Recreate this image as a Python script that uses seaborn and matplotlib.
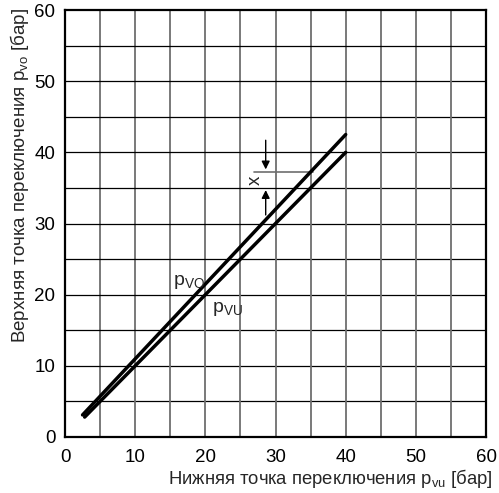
import numpy as np
import pandas as pd
import matplotlib
matplotlib.use("Agg")
import matplotlib.pyplot as plt
import seaborn as sns

# switching points [bar]
p_vu_x = [2.8, 40.0]
p_vu_y = [2.8, 40.0]
p_vo_x = [2.5, 40.0]
p_vo_y = [3.1, 42.5]

ticks = [0, 10, 20, 30, 40, 50, 60]
grid = np.arange(0, 61, 5)

sns.set_style("white")
plt.rcParams["font.family"] = ["Liberation Sans", "DejaVu Sans"]
plt.rcParams["mathtext.fontset"] = "custom"
plt.rcParams["mathtext.rm"] = "Liberation Sans"
plt.rcParams["mathtext.it"] = "Liberation Sans"

df = pd.concat([
    pd.DataFrame({"x": p_vo_x, "y": p_vo_y, "line": "pvo"}),
    pd.DataFrame({"x": p_vu_x, "y": p_vu_y, "line": "pvu"}),
])

fig = plt.figure(figsize=(4.99, 4.93), dpi=100)
ax = fig.add_axes([0.1303, 0.1136, 0.8437, 0.8661])

for g in grid[1:-1]:
    ax.axvline(g, color="#6e6e6e", lw=1.3, zorder=1)
    ax.axhline(g, color="black", lw=0.9, zorder=1)

sns.lineplot(data=df, x="x", y="y", units="line", estimator=None,
             color="black", lw=2.5, legend=False, ax=ax, zorder=3)

# the x dimension between the two lines
ax.plot([27.0, 35.4], [37.25, 37.25], color="#6e6e6e", lw=1.2, zorder=2)
ax.annotate("", xy=(28.6, 37.6), xytext=(28.6, 41.7),
            arrowprops=dict(arrowstyle="-|>", color="black", lw=1.0,
                            mutation_scale=12, shrinkA=0, shrinkB=0))
ax.annotate("", xy=(28.6, 34.7), xytext=(28.6, 31.2),
            arrowprops=dict(arrowstyle="-|>", color="black", lw=1.0,
                            mutation_scale=12, shrinkA=0, shrinkB=0))
ax.text(27.1, 36.1, "x", rotation=90, ha="center", va="center", fontsize=13.5)

ax.text(15.4, 21.3, r"p$_{\mathrm{VO}}$", fontsize=14, ha="left", va="baseline")
ax.text(20.9, 17.6, r"p$_{\mathrm{VU}}$", fontsize=14, ha="left", va="baseline")

ax.set_xlim(0, 60)
ax.set_ylim(0, 60)
ax.set_xticks(ticks)
ax.set_yticks(ticks)
ax.tick_params(length=0, labelsize=13.5, colors="black")
ax.tick_params(axis="x", pad=9)
ax.tick_params(axis="y", pad=7)
for s in ax.spines.values():
    s.set_color("black")
    s.set_linewidth(1.6)

ax.set_xlabel(r"Нижняя точка переключения p$_{\mathrm{vu}}$ [бар]", fontsize=13.3)
ax.set_ylabel(r"Верхняя точка переключения p$_{\mathrm{vo}}$ [бар]", fontsize=13.5)
ax.xaxis.set_label_coords(1.015, -0.07)
ax.xaxis.label.set_ha("right")
ax.yaxis.set_label_coords(-0.08, 1.005)
ax.yaxis.label.set_ha("right")

fig.savefig("out.png", dpi=100)
